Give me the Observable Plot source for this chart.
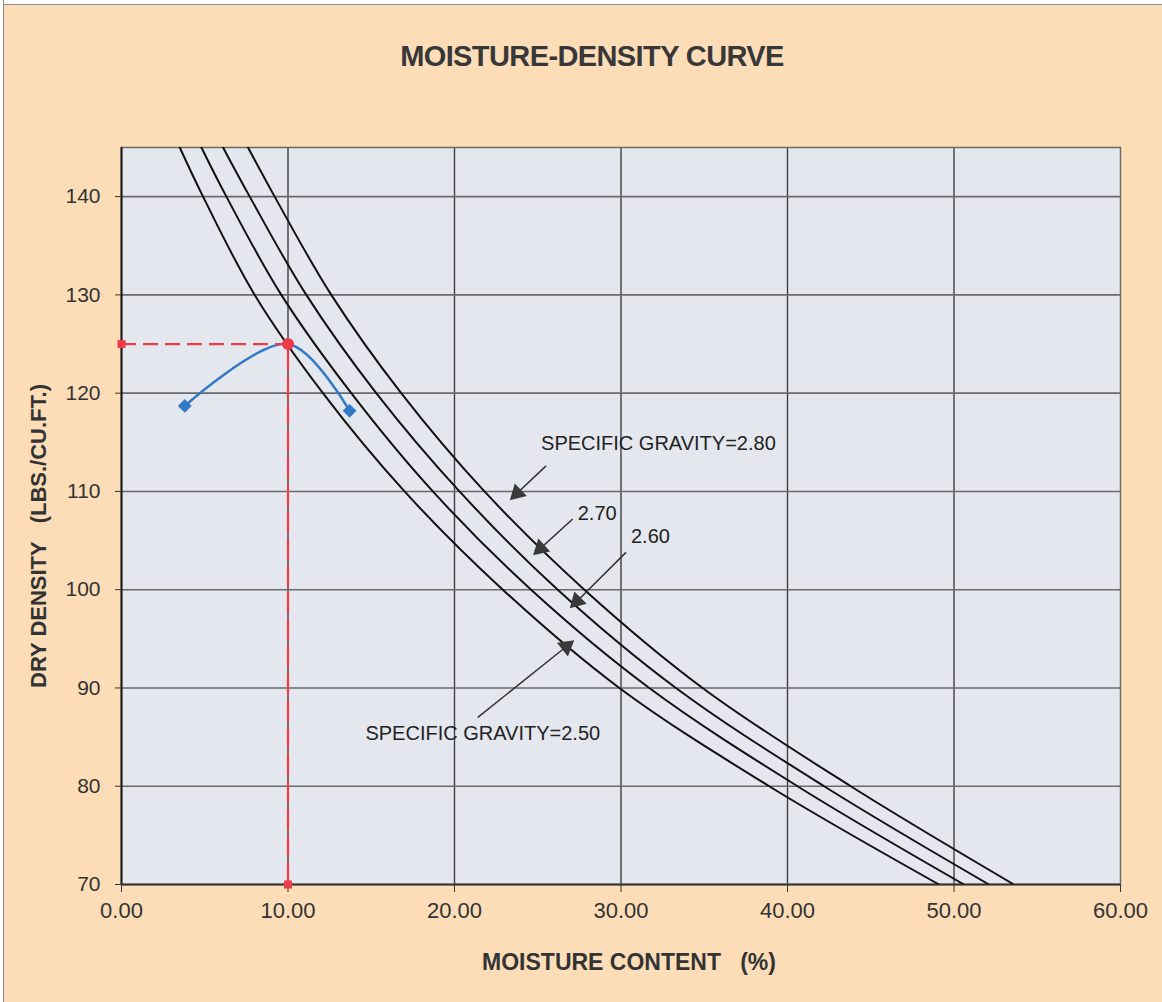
<!DOCTYPE html>
<html>
<head>
<meta charset="utf-8">
<script src="https://cdn.jsdelivr.net/npm/d3@7"></script>
<script src="https://cdn.jsdelivr.net/npm/@observablehq/plot@0.6"></script>
<style>
  body { margin: 0; background: #ffffff; }
  #wrap { position: relative; width: 1162px; height: 1002px; background: #FCDDB8; overflow: hidden; }
  #edgeTop { position: absolute; left: 0; top: 0; width: 1162px; height: 4px; background: #fff; border-bottom: 1.5px solid #8c8c8c; }
  #edgeLeft { position: absolute; left: 0; top: 0; width: 3px; height: 1002px; background: #fff; border-right: 1.5px solid #8c8c8c; }
  #title { position: absolute; left: 0; top: 42px; width: 1184px; text-align: center;
           font: bold 29px "Liberation Sans", Arial, sans-serif; letter-spacing: -0.6px; color: #383838; line-height: 29px; }
  #chart { position: absolute; left: 0; top: 100px; }
  #chart svg text { white-space: pre; }
</style>
</head>
<body>
<div id="wrap">
  <div id="edgeTop"></div>
  <div id="edgeLeft"></div>
  <div id="title">MOISTURE-DENSITY CURVE</div>
  <div id="chart"></div>
</div>
<script>
// ---- data ----
const xTicks = [0, 10, 20, 30, 40, 50, 60];
const yTicks = [70, 80, 90, 100, 110, 120, 130, 140];

// zero-air-voids curves: dry density levels and moisture content for each specific gravity
const densityLevels  = [145, 140, 130, 120, 110, 100, 90, 80, 70];
const moistureGs250  = [3.5, 4.9, 8.0, 12.1, 17.0, 22.9, 29.9, 38.9, 49.1];
const moistureGs260  = [4.8, 6.3, 9.6, 13.8, 18.7, 24.6, 31.7, 40.6, 50.6];
const moistureGs270  = [6.1, 7.7, 11.1, 15.3, 20.3, 26.2, 33.3, 42.2, 52.1];
const moistureGs280  = [7.6, 9.2, 12.6, 16.8, 21.8, 27.8, 34.9, 43.8, 53.6];
const gravities      = ["2.50", "2.60", "2.70", "2.80"];

// compaction test points
const testMoisture = [3.8, 10.0, 13.7];
const testDensity  = [118.7, 125.0, 118.2];

// optimum
const optMoisture = 10.0;
const optDensity  = 125.0;

// annotations
const noteText = ["SPECIFIC GRAVITY=2.80", "2.70", "2.60", "SPECIFIC GRAVITY=2.50"];
const noteX    = [25.2, 27.4, 30.6, 14.65];
const noteY    = [114.9, 107.7, 105.4, 85.4];
const arrowX1  = [25.5, 27.1, 30.3, 21.4];
const arrowY1  = [112.6, 107.2, 103.8, 87.0];
const arrowX2  = [23.5, 24.9, 27.1, 27.0];
const arrowY2  = [109.4, 103.8, 98.4, 94.6];

// ---- build tables ----
const moistureByGs = [moistureGs250, moistureGs260, moistureGs270, moistureGs280];
const zav = [];
gravities.forEach((g, i) => densityLevels.forEach((d, j) => zav.push({gs: g, w: moistureByGs[i][j], d})));
const tests = testMoisture.map((w, i) => ({w, d: testDensity[i]}));
const ends = tests.filter((t, i) => i !== 1);

const W = 1162, H = 902, ML = 121, MR = 42, MT = 47, MB = 118;
const kx = (W - ML - MR) / (xTicks[xTicks.length - 1] - xTicks[0]);
const ky = (H - MT - MB) / (145 - 70);

const notes = noteText.map((t, i) => ({t, x: noteX[i], y: noteY[i]}));
const arrows = noteText.map((t, i) => {
  const sx = (arrowX2[i] - arrowX1[i]) * kx;
  const sy = -(arrowY2[i] - arrowY1[i]) * ky;
  const len = Math.hypot(sx, sy);
  const back = 6; // px back from the tip for the head centre
  return {
    x1: arrowX1[i], y1: arrowY1[i], x2: arrowX2[i], y2: arrowY2[i],
    hx: arrowX2[i] - (sx / len) * back / kx,
    hy: arrowY2[i] + (sy / len) * back / ky,
    rot: Math.atan2(sx, -sy) * 180 / Math.PI
  };
});

const red = "#EE3B4A";
const blue = "#2F79C6";

const plot = Plot.plot({
  width: W, height: H,
  marginLeft: ML, marginRight: MR, marginTop: MT, marginBottom: MB,
  style: {background: "transparent", fontFamily: "'Liberation Sans', Arial, sans-serif", color: "#333"},
  x: {domain: [0, 60]},
  y: {domain: [70, 145]},
  marks: [
    Plot.frame({fill: "#E4E7EE", stroke: null}),
    Plot.gridX(xTicks.slice(1, -1), {stroke: "#404040", strokeOpacity: 1, strokeWidth: 1.4}),
    Plot.gridY(yTicks.slice(1), {stroke: "#6a6a6a", strokeOpacity: 1, strokeWidth: 1.6}),
    Plot.frame({stroke: "#6a6a6a", strokeWidth: 1.5}),
    Plot.ruleX([0], {stroke: "#1a1a1a", strokeWidth: 2}),
    Plot.ruleY([70], {stroke: "#333", strokeWidth: 1.8}),
    Plot.axisX(xTicks, {tickFormat: d3.format(".2f"), tickSize: 8, tickPadding: 10, fontSize: 22, label: null, stroke: "#333"}),
    Plot.axisY(yTicks, {tickSize: 6, tickPadding: 15, fontSize: 21, label: null, stroke: "#333"}),
    Plot.line(zav, {x: "w", y: "d", z: "gs", curve: "catmull-rom", stroke: "#111", strokeWidth: 2, clip: true}),
    // annotations
    Plot.text(notes, {x: "x", y: "y", text: "t", textAnchor: "start", fontSize: 20, fill: "#222"}),
    Plot.link(arrows, {x1: "x1", y1: "y1", x2: "x2", y2: "y2", stroke: "#333", strokeWidth: 1.5}),
    Plot.dot(arrows, {x: "hx", y: "hy", symbol: "triangle", r: 6.5, fill: "#3a3a3a", stroke: null, rotate: "rot"}),
    // compaction curve
    Plot.line(tests, {x: "w", y: "d", curve: "catmull-rom", stroke: blue, strokeWidth: 2.5}),
    Plot.dot(ends, {x: "w", y: "d", symbol: "square", r: 5.5, rotate: 45, fill: blue, stroke: null}),
    // optimum lines
    Plot.ruleY([optDensity], {x1: 0, x2: optMoisture, stroke: red, strokeWidth: 2.2, strokeDasharray: "15,7"}),
    Plot.ruleX([optMoisture], {y1: 70, y2: optDensity, stroke: red, strokeWidth: 2.2, strokeDasharray: "22,5"}),
    Plot.dot([[0, optDensity], [optMoisture, 70]], {x: d => d[0], y: d => d[1], symbol: "square", r: 4.5, fill: red, stroke: null}),
    Plot.dot([[optMoisture, optDensity]], {x: d => d[0], y: d => d[1], r: 6, fill: red, stroke: null}),
    // axis titles
    Plot.text(["DRY DENSITY   (LBS./CU.FT.)"], {frameAnchor: "left", dx: -83, dy: 20, rotate: -90, textAnchor: "middle", lineAnchor: "middle", fontSize: 22, fontWeight: "bold", fill: "#333"}),
    Plot.text(["MOISTURE CONTENT   (%)"], {frameAnchor: "bottom", dy: 78, dx: 8, textAnchor: "middle", lineAnchor: "middle", fontSize: 23, fontWeight: "bold", fill: "#333"})
  ]
});
document.getElementById("chart").appendChild(plot);
</script>
</body>
</html>
